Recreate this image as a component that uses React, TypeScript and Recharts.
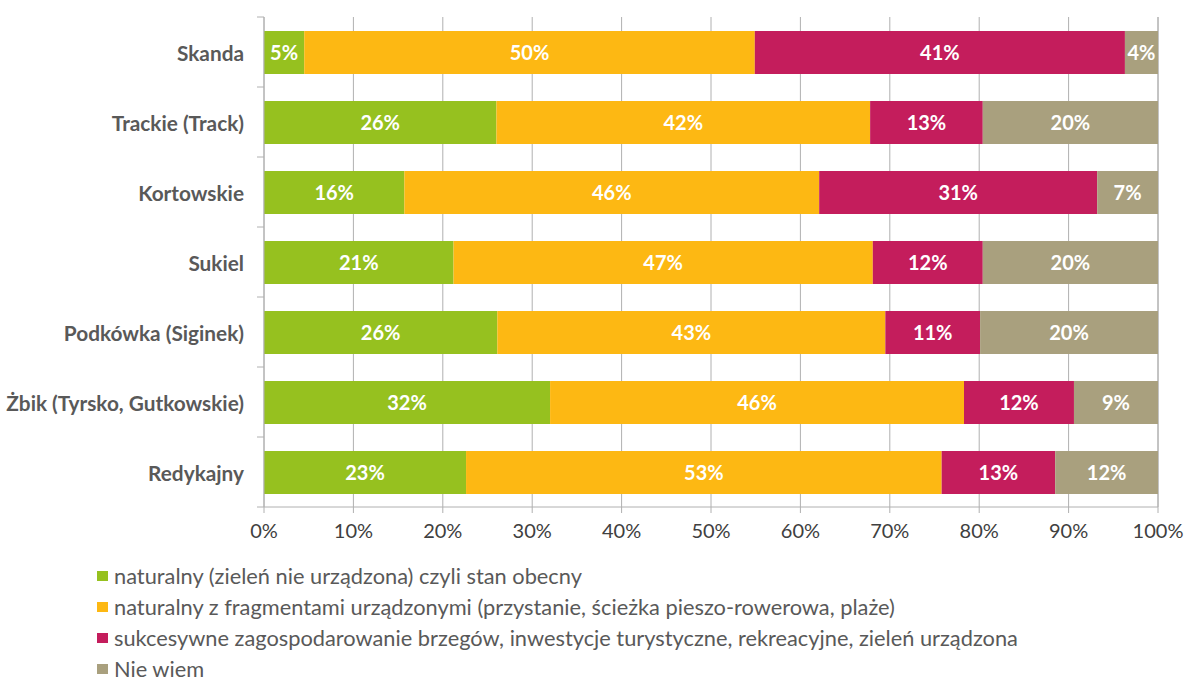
import { BarChart, Bar, XAxis, YAxis, CartesianGrid, LabelList, Legend } from 'recharts'

const kategorie = [
  'Skanda',
  'Trackie (Track)',
  'Kortowskie',
  'Sukiel',
  'Podkówka (Siginek)',
  'Żbik (Tyrsko, Gutkowskie)',
  'Redykajny',
]
const naturalny = [4.5, 26.0, 15.7, 21.2, 26.1, 32.0, 22.6]
const fragmenty = [50.4, 41.8, 46.4, 46.9, 43.4, 46.3, 53.2]
const zagospodarowanie = [41.4, 12.6, 31.1, 12.3, 10.6, 12.3, 12.7]
const nieWiem = [3.7, 19.6, 6.8, 19.6, 19.9, 9.4, 11.5]
const ticksX = [0, 10, 20, 30, 40, 50, 60, 70, 80, 90, 100]

const serie = [
  { key: 'naturalny', nazwa: 'naturalny (zieleń nie urządzona) czyli stan obecny', kolor: '#96C11F' },
  { key: 'fragmenty', nazwa: 'naturalny z fragmentami urządzonymi (przystanie, ścieżka pieszo-rowerowa, plaże)', kolor: '#FDB813' },
  { key: 'zagospodarowanie', nazwa: 'sukcesywne zagospodarowanie brzegów, inwestycje turystyczne, rekreacyjne, zieleń urządzona', kolor: '#C41D5C' },
  { key: 'nieWiem', nazwa: 'Nie wiem', kolor: '#A9A07E' },
]

const dane = kategorie.map((nazwa, i) => ({
  nazwa,
  naturalny: naturalny[i],
  fragmenty: fragmenty[i],
  zagospodarowanie: zagospodarowanie[i],
  nieWiem: nieWiem[i],
}))

const FONT = 'Lato, "Open Sans", sans-serif'
const SZARY = '#595959'
const LINIA = '#b0b0b0'

// etykieta kategorii + kreska na granicy pasa (jak w Excelu)
function TickKategorii({ x, y, payload, index }: any) {
  const pol = payload?.offset || 35
  const x0 = x + 13
  return (
    <g>
      <text x={x} y={y} textAnchor="end" dominantBaseline="central" fill={SZARY}
        style={{ fontFamily: FONT, fontSize: 20.8, fontWeight: 700 }}>
        {payload.value}
      </text>
      <line x1={x0} x2={x0 + 7} y1={y - pol} y2={y - pol} stroke={LINIA} />
      {index === kategorie.length - 1 && (
        <line x1={x0} x2={x0 + 7} y1={y + pol} y2={y + pol} stroke={LINIA} />
      )}
    </g>
  )
}

// legenda w kolejnosci serii (recharts sam sortuje payload)
function Legenda() {
  return (
    <div style={{ height: 130, paddingTop: 12, boxSizing: 'border-box', fontFamily: FONT, fontSize: 21.8, color: SZARY }}>
      {serie.map((s) => (
        <div key={s.key} style={{ display: 'flex', alignItems: 'center', height: 31, whiteSpace: 'nowrap' }}>
          <span style={{ width: 11, height: 10, background: s.kolor, marginRight: 6, display: 'inline-block' }} />
          {s.nazwa}
        </div>
      ))}
    </div>
  )
}

const procent = (v: any) => `${Math.round(Number(v))}%`

export default function App() {
  return (
    <div style={{ position: 'absolute', left: 0, top: 0, width: 1185, height: 682, background: '#fff' }}>
      <BarChart
        width={1185}
        height={682}
        data={dane}
        layout="vertical"
        margin={{ top: 17, right: 27, bottom: 0, left: 0 }}
        barSize={43}
      >
        <CartesianGrid horizontal={false} stroke={LINIA} />
        <XAxis
          type="number"
          domain={[0, 100]}
          ticks={ticksX}
          interval={0}
          tickFormatter={(v) => `${v}%`}
          height={45}
          tickSize={6}
          tickMargin={11}
          axisLine={{ stroke: LINIA }}
          tickLine={{ stroke: LINIA }}
          tick={{ fill: '#404040', fontSize: 20, fontFamily: FONT }}
        />
        <YAxis
          type="category"
          dataKey="nazwa"
          width={264}
          tickSize={7}
          tickMargin={13}
          tickLine={false}
          axisLine={{ stroke: LINIA }}
          interval={0}
          tick={<TickKategorii />}
        />
        <Legend
          verticalAlign="bottom"
          align="left"
          layout="horizontal"
          content={<Legenda />}
          wrapperStyle={{ top: 548, left: 97, width: 'auto', bottom: 'auto' }}
        />
        {serie.map((s) => (
          <Bar key={s.key} dataKey={s.key} name={s.nazwa} stackId="a" fill={s.kolor} isAnimationActive={false}>
            <LabelList
              dataKey={s.key}
              position="center"
              formatter={procent}
              fill="#fff"
              style={{ fontFamily: FONT, fontSize: 20, fontWeight: 700 }}
            />
          </Bar>
        ))}
      </BarChart>
    </div>
  )
}
